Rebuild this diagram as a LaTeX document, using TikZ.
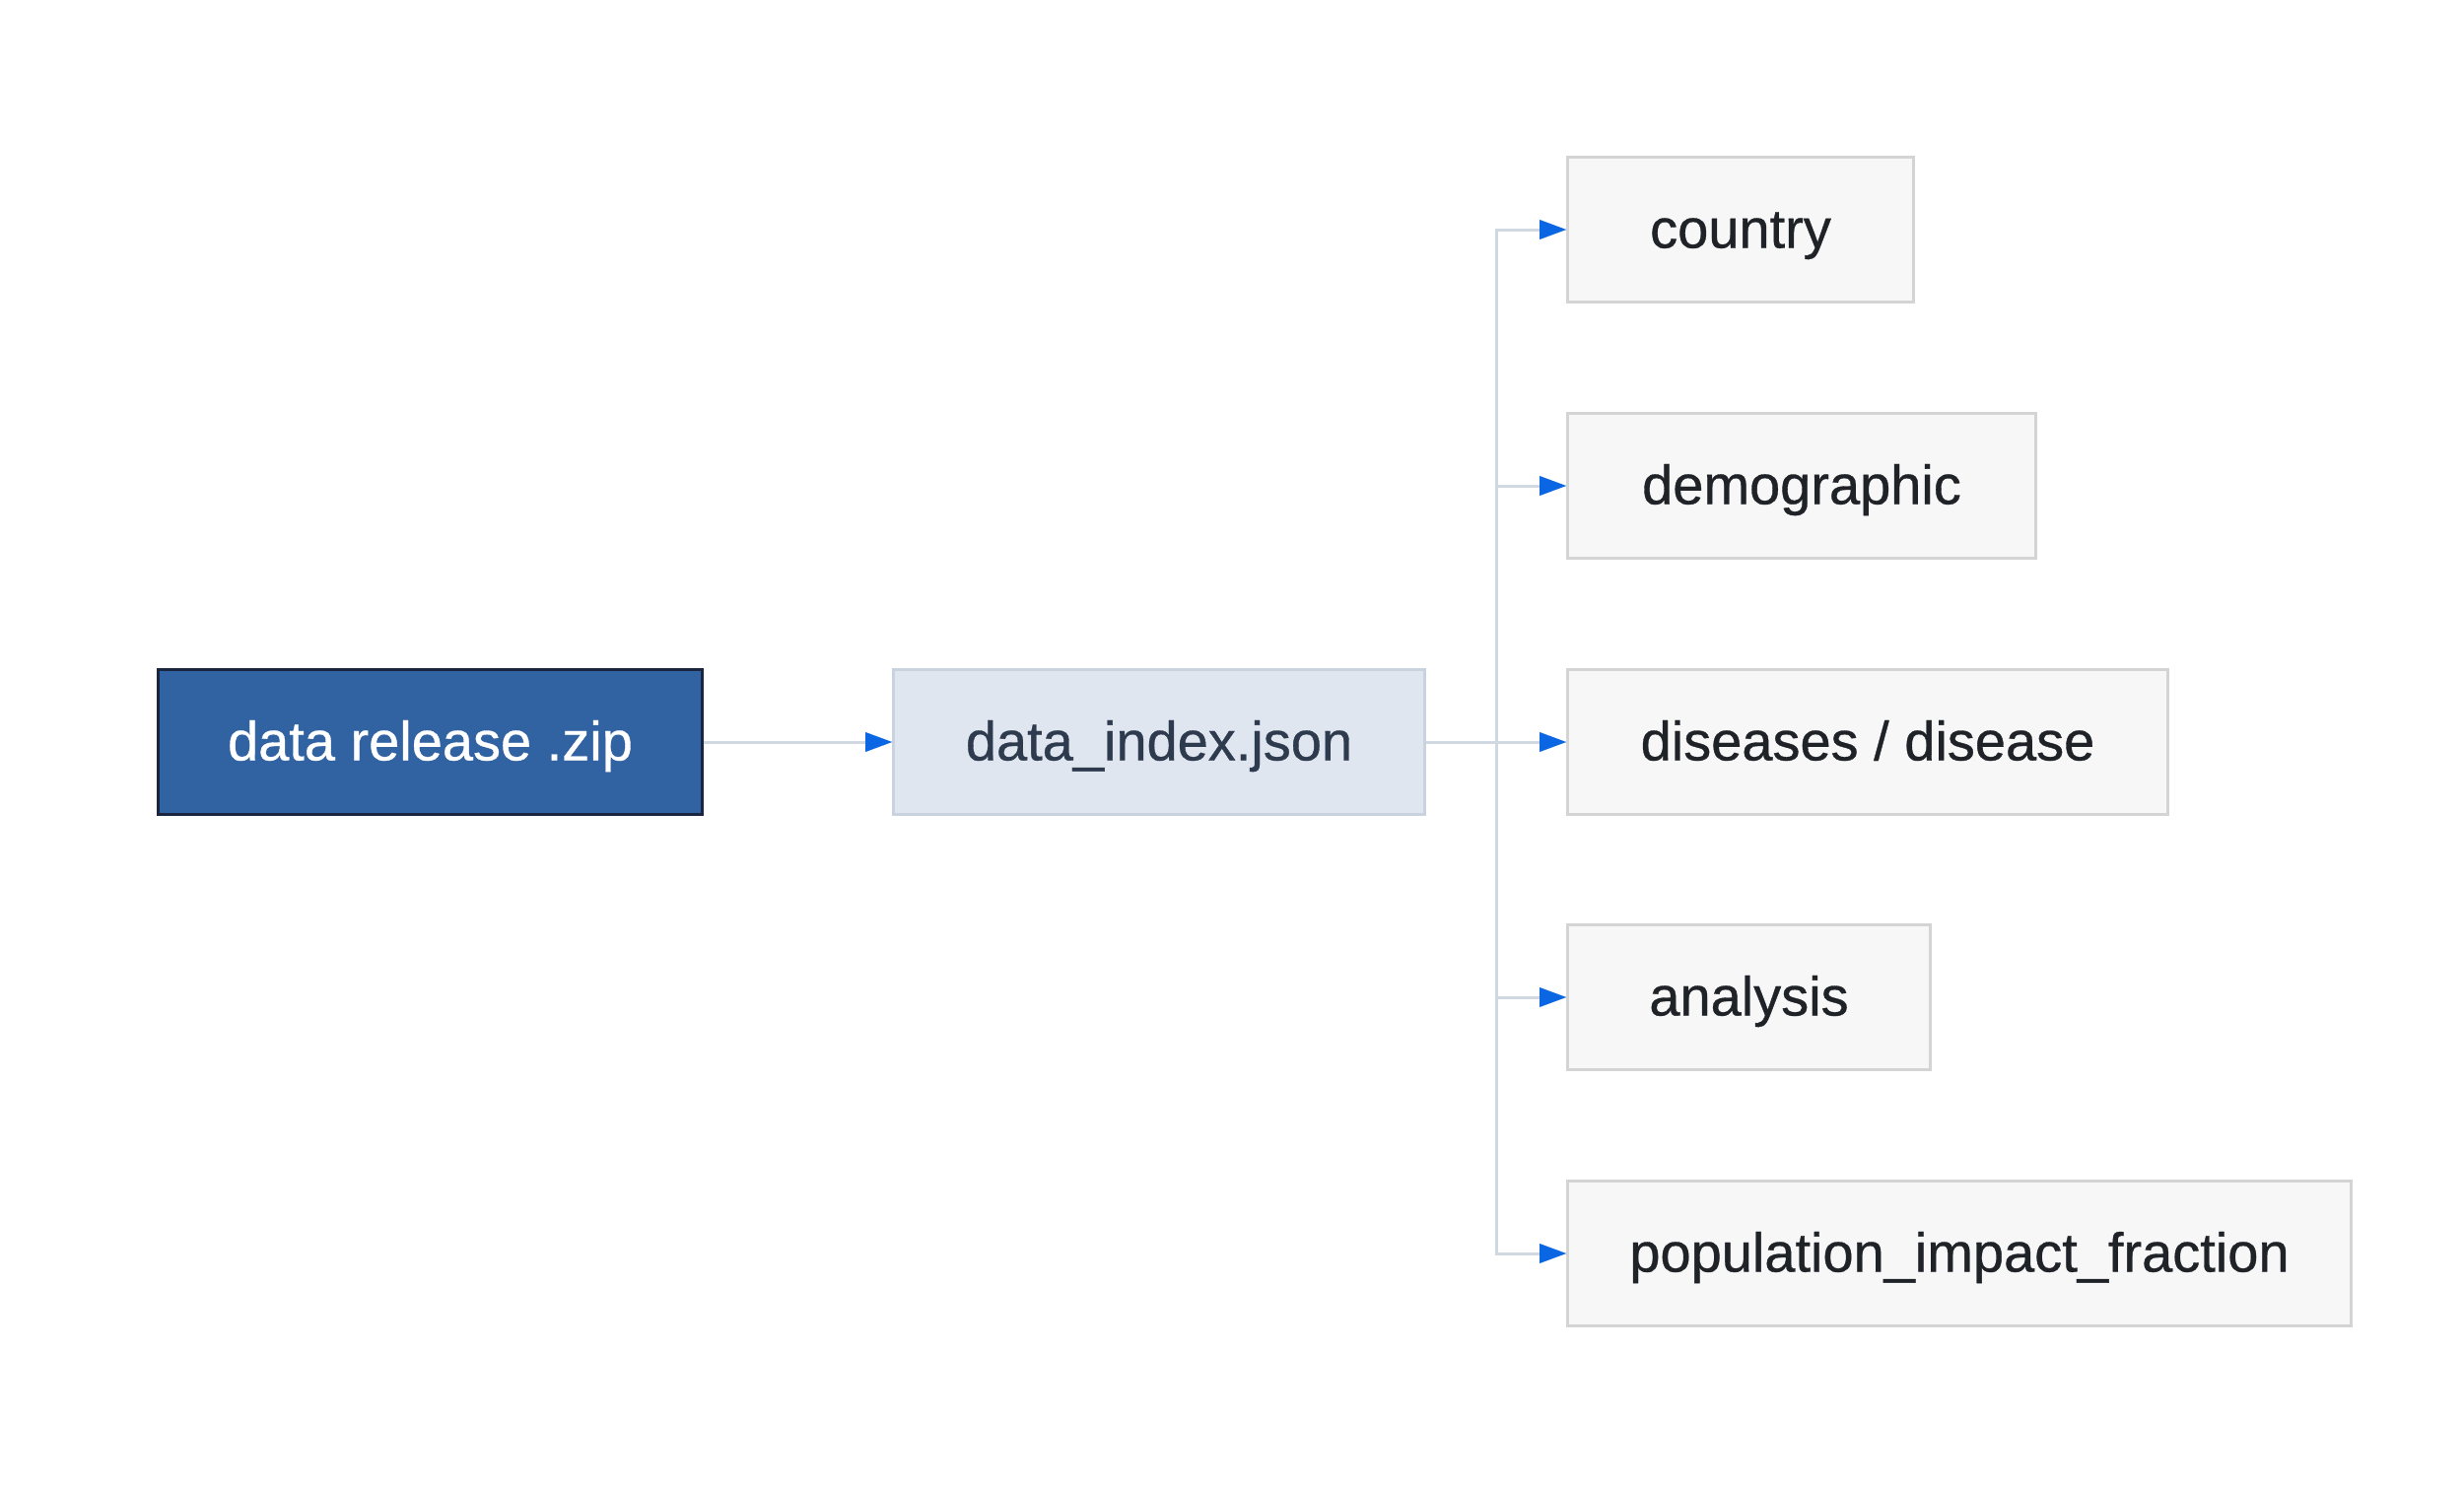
\documentclass[tikz,border=0pt]{standalone}
\usepackage{fontspec}
\setmainfont{Liberation Sans}[FakeBold=0.6]
\usetikzlibrary{arrows.meta}
\definecolor{zipfill}{HTML}{3162A2}
\definecolor{zipdraw}{HTML}{1A2540}
\definecolor{idxfill}{HTML}{DFE6F0}
\definecolor{idxdraw}{HTML}{C9D3DF}
\definecolor{idxtext}{HTML}{2E3A4D}
\definecolor{kidfill}{HTML}{F7F7F7}
\definecolor{kiddraw}{HTML}{D4D4D4}
\definecolor{kidtext}{HTML}{1F2328}
\definecolor{linecol}{HTML}{D0D8E1}
\definecolor{tipcol}{HTML}{0B66E4}
\begin{document}
\begin{tikzpicture}[x=1pt,y=-1pt,
  box/.style={rectangle, line width=3pt, minimum height=147pt, inner sep=0pt,
    text height=45pt, text depth=8pt,
    font=\fontsize{56}{67}\selectfont},
  zipbox/.style={box, fill=zipfill, draw=zipdraw, text=white},
  idxbox/.style={box, fill=idxfill, draw=idxdraw, text=idxtext},
  kidbox/.style={box, fill=kidfill, draw=kiddraw, text=kidtext},
  conn/.style={draw=linecol, line width=3pt,
    -{Triangle[length=27pt,width=20pt,color=tipcol,line width=0.01pt]}},
  plain/.style={draw=linecol, line width=3pt}]
\useasboundingbox (0,0) rectangle (2500,1508);
\node[zipbox, minimum width=552pt] (zip) at (436.5,753) {data release .zip};
\node[idxbox, minimum width=539pt] (idx) at (1176,753) {data\_index.json};
\node[kidbox, minimum width=351pt] (country) at (1766,233) {country};
\node[kidbox, minimum width=475pt] (demo) at (1828,493) {demographic};
\node[kidbox, minimum width=609pt] (dis) at (1895,753) {diseases / disease};
\node[kidbox, minimum width=368pt] (ana) at (1774.5,1012) {analysis};
\node[kidbox, minimum width=795pt] (pif) at (1988,1272) {population\_impact\_fraction};
\coordinate (trunk) at (1518,753);
\draw[conn] (zip.east) -- (idx.west);
\draw[plain] (idx.east) -- (trunk);
\foreach \k in {country,demo,dis,ana,pif}{
  \draw[conn] (trunk) |- (\k.west);
}
\end{tikzpicture}
\end{document}
